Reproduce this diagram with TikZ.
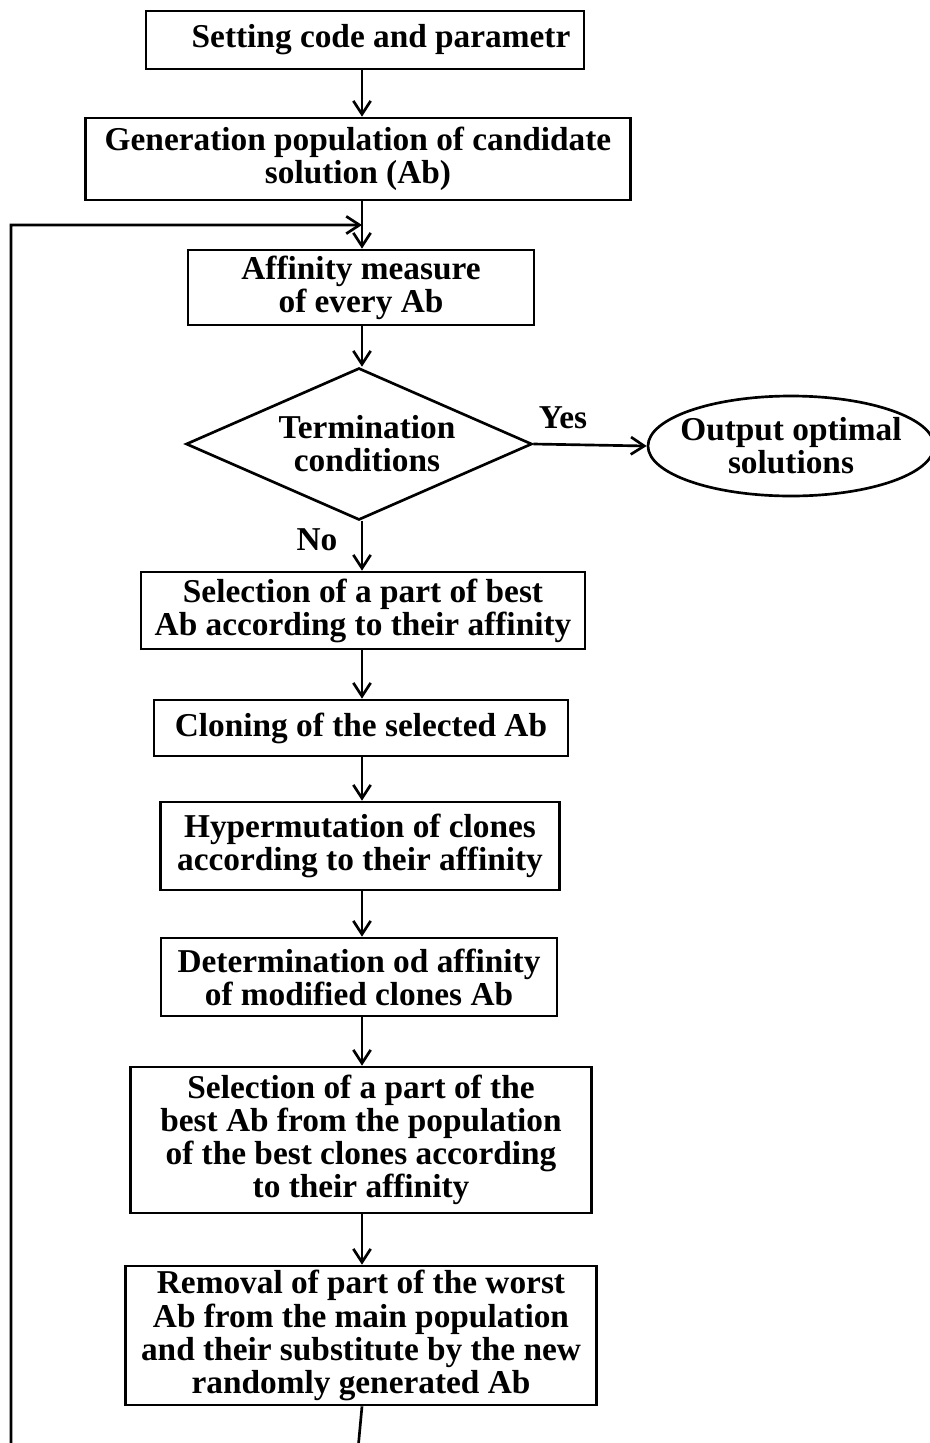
\documentclass[tikz,border=0pt]{standalone}
\usepackage{fontspec}
\setmainfont{Liberation Serif}
\usepackage{tikz}
\usetikzlibrary{arrows.meta}
\usetikzlibrary{shapes.geometric}

\tikzset{
  box/.style={draw, line width=2pt, rectangle, inner sep=0pt, align=center,
    font=\fontsize{25}{24.8}\selectfont\bfseries},
  cond/.style={draw, line width=2pt, diamond, aspect=2.28, inner sep=0pt, align=center,
    font=\fontsize{25}{24.8}\selectfont\bfseries},
  term/.style={draw, line width=2pt, ellipse, inner xsep=-8pt, inner ysep=0pt, align=center,
    font=\fontsize{25}{24.8}\selectfont\bfseries},
  lbl/.style={inner sep=0pt, font=\fontsize{25}{24.8}\selectfont\bfseries},
  flow/.style={line width=2pt, -{Straight Barb[length=10pt,width=13pt,line width=2pt]}},
}

\begin{document}
\begin{tikzpicture}[x=0.75pt,y=0.75pt,yscale=-1,xscale=1]
\path[use as bounding box] (0,0) rectangle (930,1443);
\clip (0,0) rectangle (930,1443);

% Boxes
\node[box, minimum width=328.5pt, minimum height=43.5pt] (setup) at (365,40) {\hspace{24pt}Setting code and parametr};
\node[box, minimum width=408.75pt, minimum height=61.5pt] (gen) at (358,159) {Generation population of candidate\\solution (Ab)};
\node[box, minimum width=259.5pt, minimum height=56.25pt] (aff) at (361,287.5) {Affinity measure\\ of every Ab};
\node[cond, minimum width=259.5pt, minimum height=114pt] (term) at (359,444) {\hspace{12pt}Termination\\\hspace{12pt}conditions};
\node[term, minimum width=214.5pt, minimum height=75pt] (out) at (791,446) {Output optimal\\solutions};
\node[box, minimum width=333pt, minimum height=57.75pt] (selbest) at (363,610.5) {Selection of a part of best\\Ab according to their affinity};
\node[box, minimum width=310.5pt, minimum height=42pt] (clone) at (361,728) {Cloning of the selected Ab};
\node[box, minimum width=299.25pt, minimum height=66pt] (hyper) at (360,846) {Hypermutation of clones\\according to their affinity};
\node[box, minimum width=297pt, minimum height=58.5pt] (determ) at (359,977) {Determination od affinity\\of modified clones Ab};
\node[box, minimum width=345.75pt, minimum height=109.5pt] (selclone) at (361,1140) {Selection of a part of the\\best Ab from the population\\of the best clones according\\to their affinity};
\node[box, minimum width=353.25pt, minimum height=104.25pt] (remove) at (361,1335.5) {Removal of part of the worst\\Ab from the main population\\and their substitute by the new\\randomly generated Ab};

% Labels
\node[lbl] (yes) at (563,418) {Yes};
\node[lbl] (no) at (317,540) {No};

% Connectors
\coordinate (join) at (362,225);
\coordinate (bl) at (11,1460);
\draw[flow] (setup.south -| 362,0) -- (gen.north -| 362,0);
\draw[flow] (gen.south -| 362,0) -- (aff.north -| 362,0);
\draw[flow] (aff.south -| 362,0) -- (term.north -| 362,0);
\draw[flow] (term.east) -- (out.west);
\draw[flow] (term.south -| 362,0) -- (selbest.north -| 362,0);
\draw[flow] (selbest.south -| 362,0) -- (clone.north -| 362,0);
\draw[flow] (clone.south -| 362,0) -- (hyper.north -| 362,0);
\draw[flow] (hyper.south -| 362,0) -- (determ.north -| 362,0);
\draw[flow] (determ.south -| 362,0) -- (selclone.north -| 362,0);
\draw[flow] (selclone.south -| 362,0) -- (remove.north -| 362,0);
% loop back
\draw[flow] (remove.south -| 362,0) -- (bl -| 357,0) -- (bl) |- (join);

\end{tikzpicture}
\end{document}
